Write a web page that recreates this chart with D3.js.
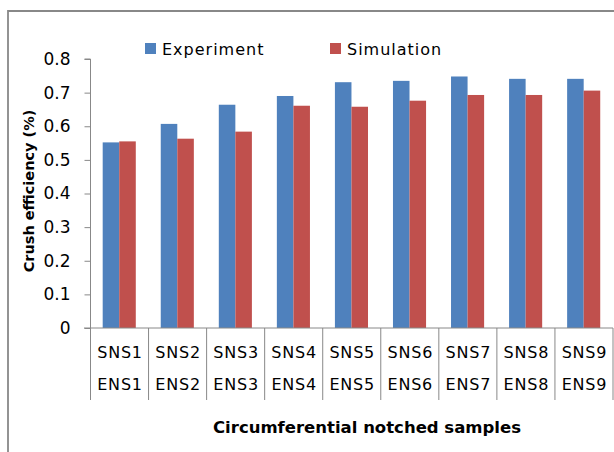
<!DOCTYPE html>
<html>
<head>
<meta charset="utf-8">
<script src="https://cdn.jsdelivr.net/npm/d3@7"></script>
<style>
  html, body { margin: 0; padding: 0; background: #fff; }
  svg { display: block; }
</style>
</head>
<body>
<svg id="chart" width="614" height="452"></svg>
<script>
const categoriesTop = ["SNS1","SNS2","SNS3","SNS4","SNS5","SNS6","SNS7","SNS8","SNS9"];
const categoriesBottom = ["ENS1","ENS2","ENS3","ENS4","ENS5","ENS6","ENS7","ENS8","ENS9"];
const seriesNames = ["Experiment", "Simulation"];
const experiment = [0.552, 0.607, 0.664, 0.690, 0.731, 0.735, 0.748, 0.741, 0.741];
const simulation = [0.555, 0.563, 0.584, 0.661, 0.658, 0.676, 0.693, 0.693, 0.706];
const yTicks = [0, 0.1, 0.2, 0.3, 0.4, 0.5, 0.6, 0.7, 0.8];
const yTickLabels = ["0", "0.1", "0.2", "0.3", "0.4", "0.5", "0.6", "0.7", "0.8"];
const colors = ["#4F81BD", "#C0504D"];

const svg = d3.select("#chart");
const axisColor = "#888888";

// outer border (chart area frame)
svg.append("path")
  .attr("d", "M8,460 L8,11 L620,11")
  .attr("fill", "none")
  .attr("stroke", axisColor)
  .attr("stroke-width", 1.8);

const plotLeft = 90.5, plotRight = 613, plotTop = 59, plotBottom = 328;

const x0 = d3.scaleBand().domain(categoriesTop).range([plotLeft, plotRight]).paddingInner(0).paddingOuter(0);
const bw = x0.bandwidth();
const x1 = d3.scaleBand().domain(seriesNames).range([bw * 0.21, bw * 0.78]).padding(0);
const y = d3.scaleLinear().domain([0, 0.8]).range([plotBottom, plotTop]);

const data = categoriesTop.map((c, i) => ({ cat: c, values: [experiment[i], simulation[i]] }));

// bars
const g = svg.append("g");
data.forEach(d => {
  d.values.forEach((v, j) => {
    g.append("rect")
      .attr("x", x0(d.cat) + x1(seriesNames[j]))
      .attr("y", y(v))
      .attr("width", x1.bandwidth())
      .attr("height", y(0) - y(v))
      .attr("fill", colors[j]);
  });
});

// y axis
const yAxis = d3.axisLeft(y).tickValues(yTicks).tickSize(6).tickPadding(14)
  .tickFormat((d, i) => yTickLabels[i]);
const ya = svg.append("g").attr("transform", `translate(${plotLeft},0)`).call(yAxis);
ya.select(".domain").attr("stroke", axisColor).attr("d", `M-6,${plotTop}H0V${plotBottom}`);
ya.selectAll(".tick line").attr("stroke", axisColor);
ya.selectAll(".tick text")
  .attr("font-family", "DejaVu Sans")
  .attr("font-size", 17)
  .attr("fill", "#000");

// x axis baseline
svg.append("line")
  .attr("x1", 84).attr("x2", plotRight)
  .attr("y1", plotBottom).attr("y2", plotBottom)
  .attr("stroke", axisColor).attr("stroke-width", 1);

// category dividers
const dividers = categoriesTop.map(c => x0(c)).concat([plotRight]);
svg.append("g").selectAll("line").data(dividers).join("line")
  .attr("x1", d => d).attr("x2", d => d)
  .attr("y1", plotBottom).attr("y2", 400)
  .attr("stroke", axisColor).attr("stroke-width", 1);

// category labels
const labG = svg.append("g")
  .attr("font-family", "DejaVu Sans")
  .attr("font-size", 16)
  .attr("letter-spacing", 0.8)
  .attr("text-anchor", "middle")
  .attr("fill", "#000");
categoriesTop.forEach((c, i) => {
  const cx = x0(c) + bw / 2 + 0.5;
  labG.append("text").attr("x", cx).attr("y", 358).text(c);
  labG.append("text").attr("x", cx).attr("y", 390).text(categoriesBottom[i]);
});

// axis titles
svg.append("text")
  .attr("x", 367).attr("y", 433)
  .attr("text-anchor", "middle")
  .attr("font-family", "DejaVu Sans")
  .attr("font-weight", "bold")
  .attr("font-size", 16.5)
  .attr("fill", "#000")
  .text("Circumferential notched samples");

svg.append("text")
  .attr("transform", "translate(34,191) rotate(-90)")
  .attr("text-anchor", "middle")
  .attr("font-family", "DejaVu Sans")
  .attr("font-weight", "bold")
  .attr("font-size", 14.5)
  .attr("fill", "#000")
  .text("Crush efficiency (%)");

// legend
const legendX = [145, 330];
seriesNames.forEach((s, i) => {
  svg.append("rect")
    .attr("x", legendX[i]).attr("y", 43)
    .attr("width", 11).attr("height", 11)
    .attr("fill", colors[i]);
  svg.append("text")
    .attr("x", legendX[i] + 17).attr("y", 55)
    .attr("font-family", "DejaVu Sans")
    .attr("font-size", 16)
    .attr("letter-spacing", 1)
    .attr("fill", "#000")
    .text(s);
});
</script>
</body>
</html>
